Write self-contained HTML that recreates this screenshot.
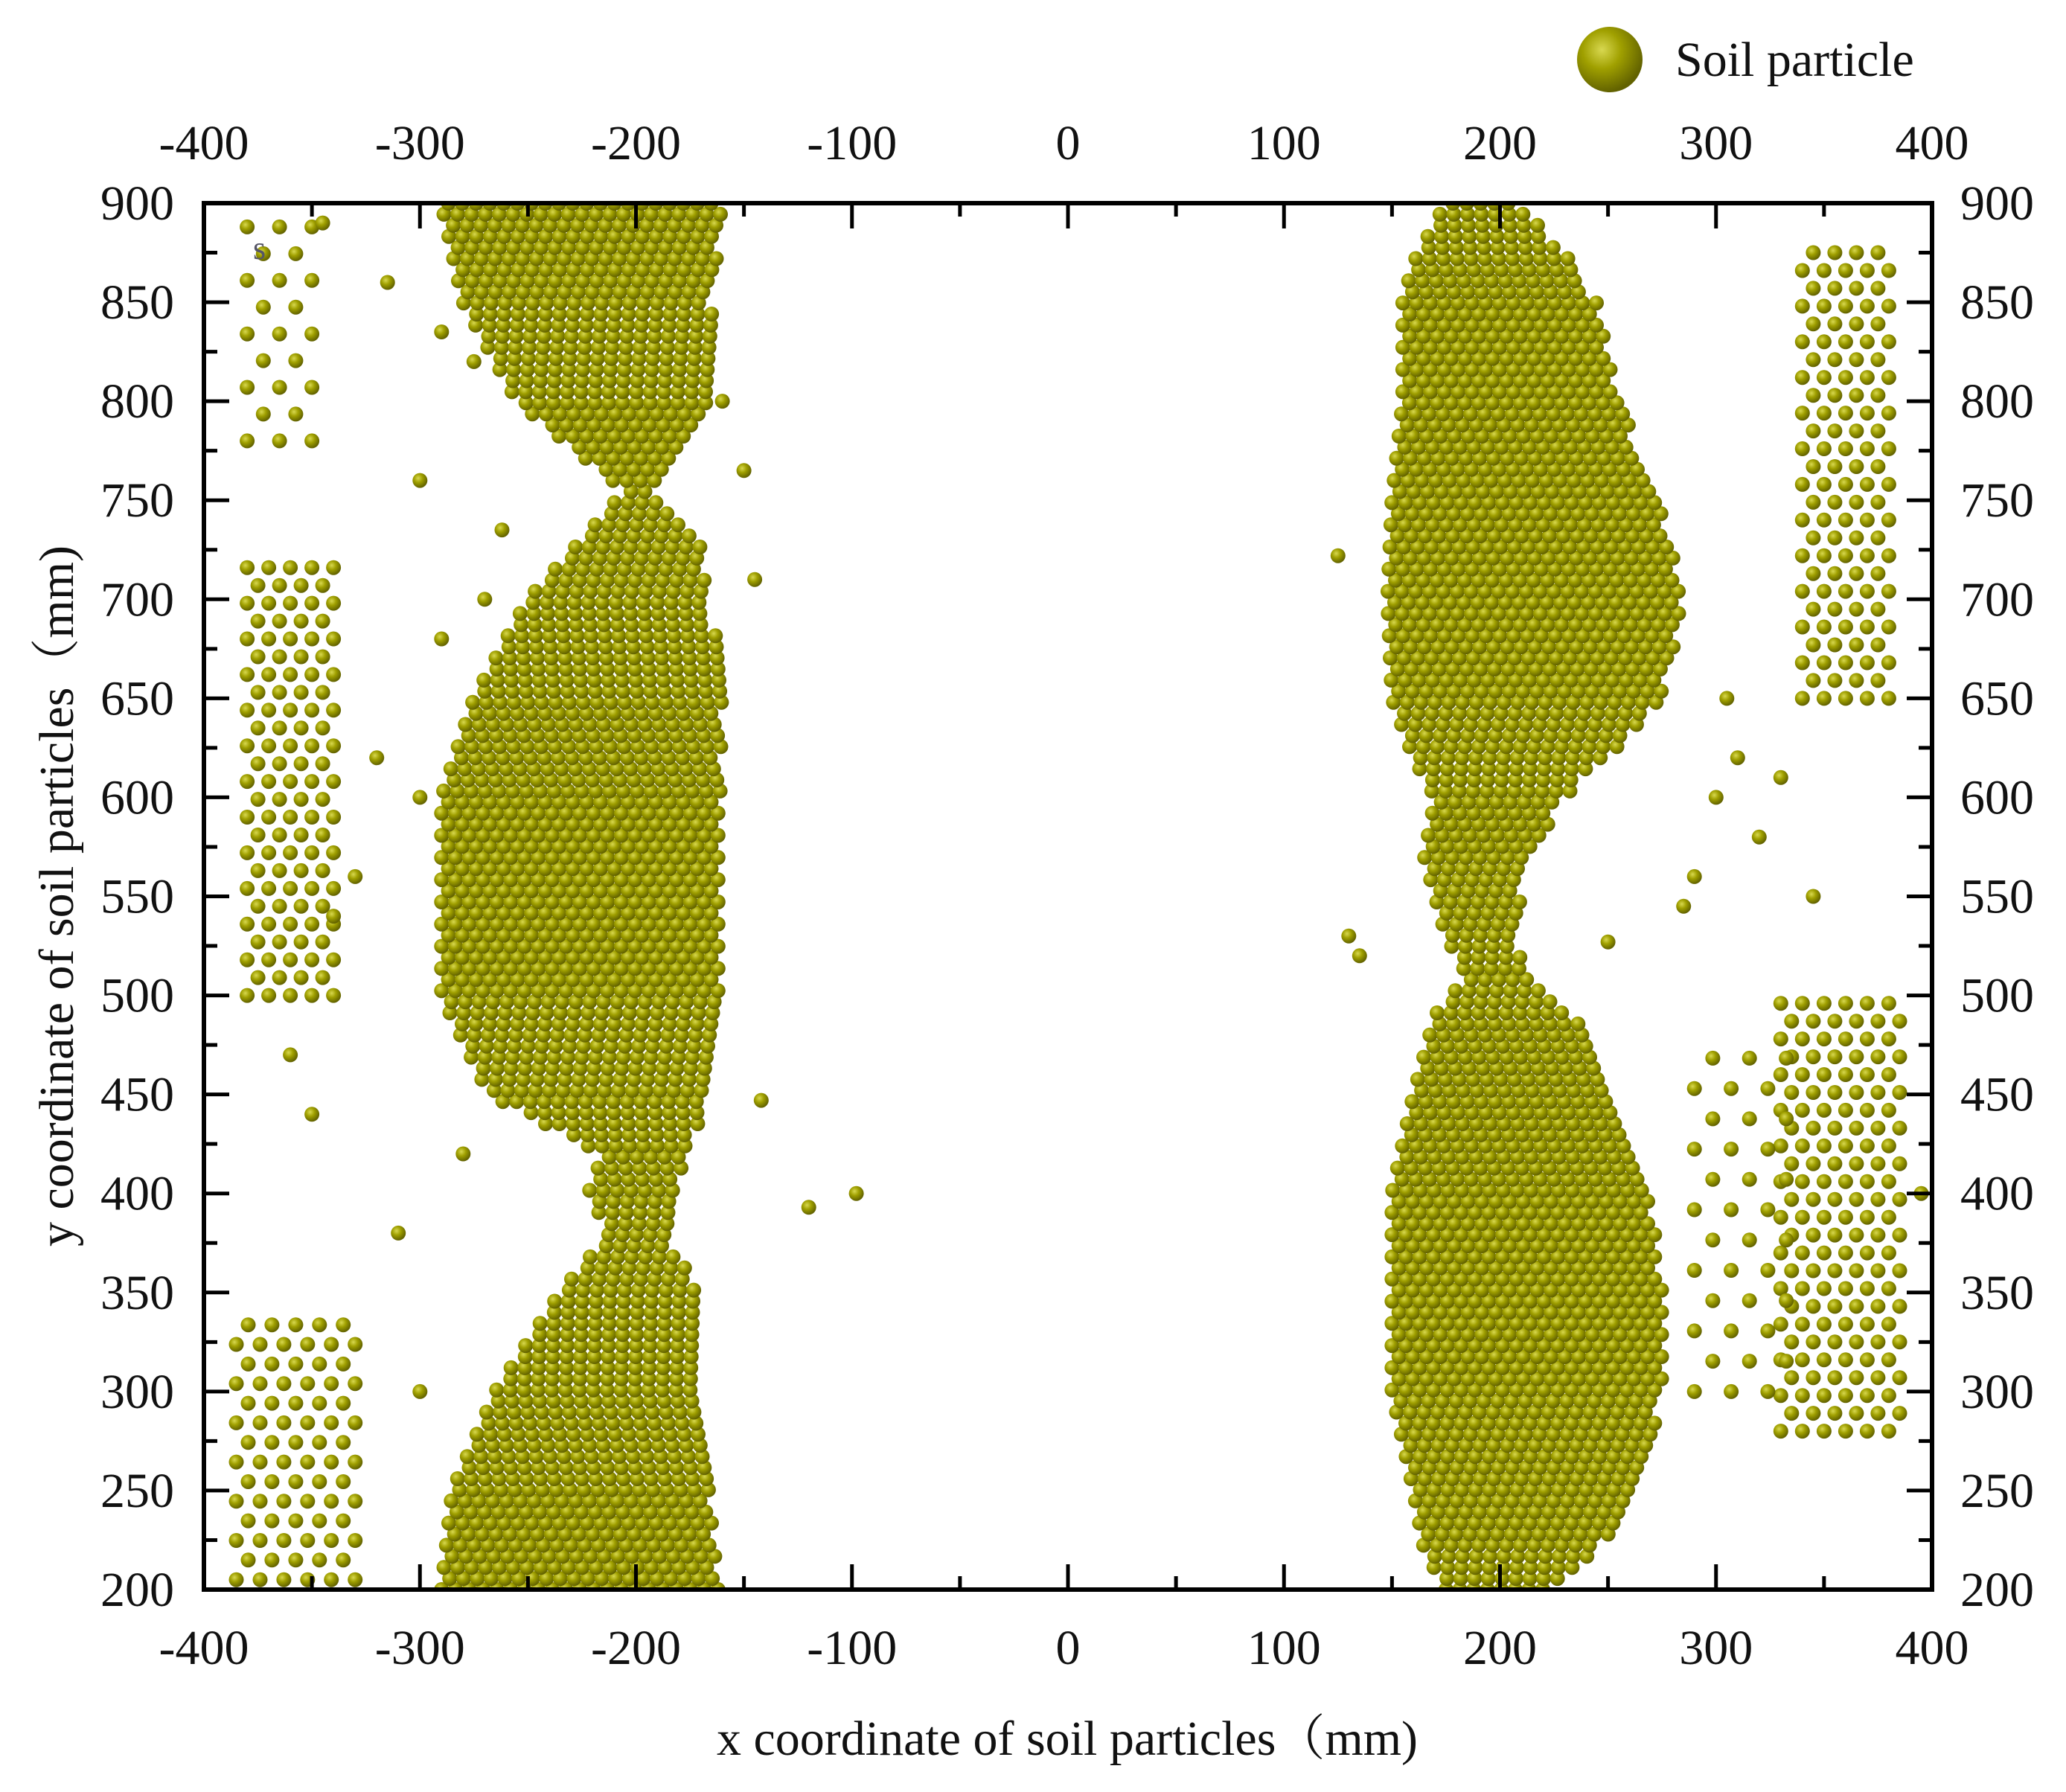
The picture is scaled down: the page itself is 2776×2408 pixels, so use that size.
<!DOCTYPE html>
<html><head><meta charset="utf-8"><style>
html,body{margin:0;padding:0;background:#fff;}
svg{display:block;}
text{font-family:"Liberation Serif","Noto Serif CJK SC",serif;fill:#111;}
</style></head><body>
<svg id="chart" width="2776" height="2408" viewBox="0 0 2776 2408" xmlns="http://www.w3.org/2000/svg">
<defs>
<radialGradient id="pg" cx="0.38" cy="0.35" r="0.65">
<stop offset="0" stop-color="#d8d850"/>
<stop offset="0.45" stop-color="#a0a000"/>
<stop offset="1" stop-color="#626200"/>
</radialGradient>
<clipPath id="plotclip"><rect x="274" y="273" width="2322" height="1863"/></clipPath>
</defs>
<g id="particles" clip-path="url(#plotclip)"></g>
<g id="axes"></g>
<text x="340" y="348" font-size="44" style="fill:#556">s</text>
<g>
<circle cx="2163" cy="80" r="44" fill="url(#pg)"/>
<text x="2251" y="102" font-size="66">Soil particle</text>
</g>
<text x="1434" y="2358" font-size="66" text-anchor="middle">x coordinate of soil particles（mm)</text>
<text transform="translate(98,1204) rotate(-90)" font-size="66" text-anchor="middle">y coordinate of soil particles（mm)</text>
</svg>
<script>
// Dense left cluster profile: y, left edge, right edge (mm)
const leftY   = [200, 250, 300, 350, 380, 400, 420, 450, 500, 550, 600, 650, 700, 730, 755, 770, 800, 850, 900];
const leftMin = [-290,-285,-265,-235,-212,-222,-215,-268,-290,-290,-290,-275,-250,-225,-205,-222,-255,-280,-290];
const leftMax = [-160,-165,-170,-170,-185,-180,-175,-165,-160,-160,-160,-160,-165,-170,-190,-180,-165,-165,-160];
// Dense right cluster profile
const rightY   = [200, 220, 250, 300, 350, 400, 450, 490, 510, 530, 570, 600, 620, 650, 700, 750, 800, 850, 870, 900];
const rightMin = [175, 165, 160, 150, 150, 150, 160, 170, 185, 175, 165, 170, 160, 150, 148, 150, 155, 155, 160, 175];
const rightMax = [225, 245, 265, 275, 275, 270, 250, 235, 215, 205, 215, 230, 250, 275, 285, 275, 255, 245, 235, 210];
// Sparse clouds: xmin, xmax, ymin, ymax, spacing (mm)
const cloudXmin = [-380,-385,-380, 340, 330, 290];
const cloudXmax = [-340,-330,-350, 380, 385, 340];
const cloudYmin = [ 500, 205, 780, 650, 280, 300];
const cloudYmax = [ 720, 340, 900, 880, 500, 480];
const cloudStep = [  10,  11,  15,  10,  10,  17];
// Stray particles
const strayX = [-120,-98,-145,-150,-142,-160,-290,-300,-320,-330,-340,-310,-280,-270,-262,-300,-315,-345,-350,125,130,135,250,290,300,310,320,305,285,330,395,345,-360,-300,-290,-275];
const strayY = [ 393,400, 710, 765, 447, 800, 680, 600, 620, 560, 540, 380, 420, 700, 735, 760, 860, 890, 440, 722,530,520,527,560,600,620,580,650,545,610,400,550, 470, 300, 835, 820];
const xTicks = [-400,-300,-200,-100,0,100,200,300,400];
const yTicks = [200,250,300,350,400,450,500,550,600,650,700,750,800,850,900];

const X0=274,X1=2596,Y0=2136,Y1=273;
const sx=v=>X0+(v+400)/800*(X1-X0);
const sy=v=>Y0-(v-200)/700*(Y0-Y1);
const NS="http://www.w3.org/2000/svg";
const pl=document.getElementById('particles');
const ax=document.getElementById('axes');
const R=10;
function dot(x,y,name){
  const c=document.createElementNS(NS,'circle');
  c.setAttribute('cx',sx(x).toFixed(1));c.setAttribute('cy',sy(y).toFixed(1));
  c.setAttribute('r',R);c.setAttribute('fill','url(#pg)');
  
  
  pl.appendChild(c);
}
function interp(ys,vs,y){
  for(let i=0;i<ys.length-1;i++){if(y>=ys[i]&&y<=ys[i+1]){const t=(y-ys[i])/(ys[i+1]-ys[i]);return vs[i]+t*(vs[i+1]-vs[i]);}}
  return y<ys[0]?vs[0]:vs[vs.length-1];
}
function band(ys,mins,maxs,name){
  const dy=5.6,dx=6.4;let row=0;
  for(let y=ys[0];y<=ys[ys.length-1]+0.01;y+=dy,row++){
    const a=interp(ys,mins,y),b=interp(ys,maxs,y);
    for(let x=a+(row%2?dx/2:0);x<=b;x+=dx)dot(x,y,name);
  }
}
band(leftY,leftMin,leftMax,'left-particle');
band(rightY,rightMin,rightMax,'right-particle');
for(let k=0;k<cloudXmin.length;k++){
  const s=cloudStep[k];let row=0;
  for(let y=cloudYmin[k];y<=cloudYmax[k];y+=s*0.9,row++)
    for(let x=cloudXmin[k]+(row%2?s/2:0);x<=cloudXmax[k];x+=s)dot(x,y,'scattered-particle');
}
for(let i=0;i<strayX.length;i++)dot(strayX[i],strayY[i],'stray-particle');

function line(x1,y1,x2,y2,w,name){
  const l=document.createElementNS(NS,'line');
  l.setAttribute('x1',x1);l.setAttribute('y1',y1);l.setAttribute('x2',x2);l.setAttribute('y2',y2);
  l.setAttribute('stroke','#000');l.setAttribute('stroke-width',w);
  
  
  ax.appendChild(l);
}
function txt(x,y,s,anchor,name){
  const t=document.createElementNS(NS,'text');
  t.setAttribute('x',x);t.setAttribute('y',y);t.setAttribute('font-size','66');t.setAttribute('text-anchor',anchor);
  t.textContent=s;
  
  
  ax.appendChild(t);
}
const fr=document.createElementNS(NS,'rect');
fr.setAttribute('x',X0);fr.setAttribute('y',Y1);fr.setAttribute('width',X1-X0);fr.setAttribute('height',Y0-Y1);
fr.setAttribute('fill','none');fr.setAttribute('stroke','#000');fr.setAttribute('stroke-width','6');


ax.appendChild(fr);
for(let v=-400;v<=400;v+=50){
  const major=(v%100===0),L=major?34:18,x=sx(v);
  line(x,Y0,x,Y0-L,5,'x-tick');line(x,Y1,x,Y1+L,5,'x-tick');
}
for(let v=200;v<=900;v+=25){
  const major=(v%50===0),L=major?34:18,y=sy(v);
  line(X0,y,X0+L,y,5,'y-tick');line(X1,y,X1-L,y,5,'y-tick');
}
xTicks.forEach(v=>{txt(sx(v),2236,String(v),'middle','x-tick-label-bottom');txt(sx(v),214,String(v),'middle','x-tick-label-top');});
yTicks.forEach(v=>{txt(234,sy(v)+22,String(v),'end','y-tick-label-left');txt(2634,sy(v)+22,String(v),'start','y-tick-label-right');});
</script>
</body></html>
